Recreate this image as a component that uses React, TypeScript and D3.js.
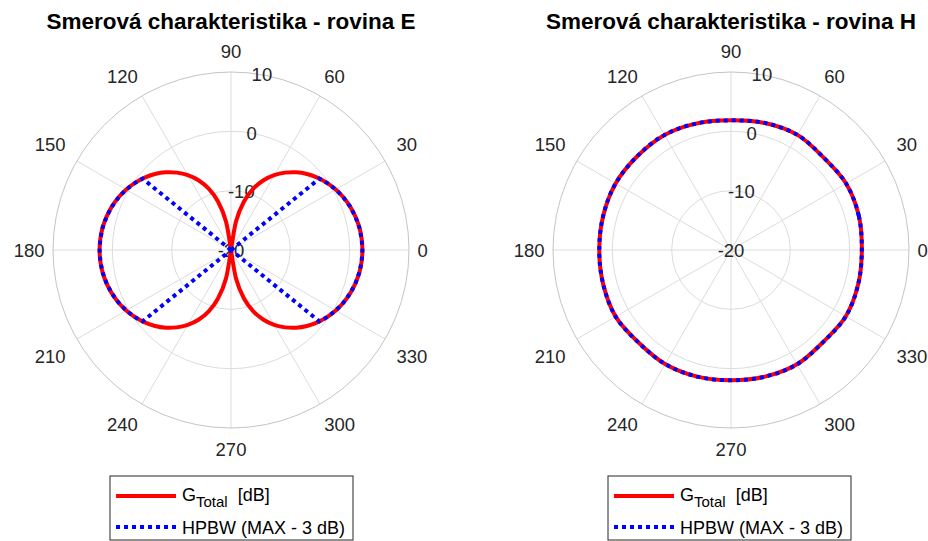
import React from 'react'
import * as d3 from 'd3'

const WIDTH = 928
const HEIGHT = 541
const RADIUS = 178
const CY = 250

// polar axes setup
const THETA_TICKS = [0, 30, 60, 90, 120, 150, 180, 210, 240, 270, 300, 330]
const R_TICKS = [-20, -10, 0, 10]
const R_LIMITS = [-20, 10]

// E plane - gain [dB] every 5 degrees (0..355)
const ANGLES_E = d3.range(0, 360, 5)
const GAIN_E = [
  2.15, 2.1, 1.96, 1.71, 1.37, 0.93, 0.39, -0.26, -1.02, -1.89, -2.9, -4.08,
  -5.44, -7.03, -9.01, -11.54, -15.1, -20, -20, -20, -15.1, -11.54, -9.01, -7.03,
  -5.44, -4.08, -2.9, -1.89, -1.02, -0.26, 0.39, 0.93, 1.37, 1.71, 1.96, 2.1,
  2.15, 2.1, 1.96, 1.71, 1.37, 0.93, 0.39, -0.26, -1.02, -1.89, -2.9, -4.08,
  -5.44, -7.03, -9.01, -11.54, -15.1, -20, -20, -20, -15.1, -11.54, -9.01, -7.03,
  -5.44, -4.08, -2.9, -1.89, -1.02, -0.26, 0.39, 0.93, 1.37, 1.71, 1.96, 2.1
]

// E plane - HPBW (MAX - 3 dB), one run per lobe, starting and ending at the centre
const HPBW_E_RIGHT_ANG = [38.9, 38.9, 35, 30, 25, 20, 15, 10, 5, 0, -5, -10, -15, -20, -25, -30, -35, -38.9, -38.9]
const HPBW_E_RIGHT_DB = [-20, -0.85, -0.26, 0.39, 0.93, 1.37, 1.71, 1.96, 2.1, 2.15, 2.1, 1.96, 1.71, 1.37, 0.93, 0.39, -0.26, -0.85, -20]
const HPBW_E_LEFT_ANG = [141.1, 141.1, 145, 150, 155, 160, 165, 170, 175, 180, 185, 190, 195, 200, 205, 210, 215, 218.9, 218.9]
const HPBW_E_LEFT_DB = [-20, -0.85, -0.26, 0.39, 0.93, 1.37, 1.71, 1.96, 2.1, 2.15, 2.1, 1.96, 1.71, 1.37, 0.93, 0.39, -0.26, -0.85, -20]

// H plane - gain [dB] every 15 degrees (0..345)
const ANGLES_H = d3.range(0, 360, 15)
const GAIN_H = [
  2.05, 2.3, 2.4, 2.05, 2.4, 2.15, 1.85, 2.1, 2.4, 2.35, 2.45, 2.3,
  2.2, 2.3, 2.45, 2.05, 2.2, 2.1, 1.95, 2.1, 2.25, 1.95, 2.35, 2.2
]

const RED = '#ff0000'
const BLUE = '#0000ff'
const GRID = '#dcdcdc'
const TXT = '#262626'
const FONT = "'Liberation Sans', Arial, Helvetica, sans-serif"

type Pt = [number, number]
const zip = (a: number[], b: number[]): Pt[] => a.map((v, i) => [v, b[i]])

const rScale = d3.scaleLinear().domain(R_LIMITS).range([0, RADIUS]).clamp(true)
const toRad = (deg: number) => ((90 - deg) * Math.PI) / 180

const smoothLine = d3
  .lineRadial<Pt>()
  .angle(d => toRad(d[0]))
  .radius(d => rScale(d[1]))
  .curve(d3.curveCardinalClosed)

const straightLine = d3
  .lineRadial<Pt>()
  .angle(d => toRad(d[0]))
  .radius(d => rScale(d[1]))

function Polar({ cx, title, gain, hpbw, hpbwClosed }: { cx: number; title: string; gain: Pt[]; hpbw: Pt[][]; hpbwClosed?: boolean }) {
  return (
    <g>
      <text x={cx} y={29} textAnchor="middle" fontSize={22.5} fontWeight="bold" fill="#000">{title}</text>
      <g transform={`translate(${cx},${CY})`}>
        {THETA_TICKS.map(t => {
          const a = (t * Math.PI) / 180
          return <line key={'s' + t} x1={0} y1={0} x2={RADIUS * Math.cos(a)} y2={-RADIUS * Math.sin(a)} stroke={GRID} strokeWidth={1} />
        })}
        {R_TICKS.slice(1, -1).map(v => (
          <circle key={'c' + v} r={rScale(v)} fill="none" stroke={GRID} strokeWidth={1} />
        ))}
        <circle r={RADIUS} fill="none" stroke="#c4c4c4" strokeWidth={1} />
        {THETA_TICKS.map(t => {
          const a = (t * Math.PI) / 180
          const c = Math.cos(a)
          const s = Math.sin(a)
          const rr = RADIUS + 8.5
          const anchor = c > 0.01 ? 'start' : c < -0.01 ? 'end' : 'middle'
          const dy = s > 0.01 ? '-0.32em' : s < -0.01 ? '1.07em' : '0.4em'
          // the 30/150/210/330 labels sit a bit further out in the reference
          const nudge = Math.abs(Math.abs(s) - 0.5) < 0.01 ? 4 * Math.sign(c) : 0
          return (
            <text key={'t' + t} x={rr * c + nudge} y={-rr * s} dy={dy} textAnchor={anchor} fontSize={18.5} fill={TXT}>{t}</text>
          )
        })}
        {R_TICKS.map(v => {
          const a = (80 * Math.PI) / 180
          const rr = rScale(v)
          return (
            <text key={'r' + v} x={rr * Math.cos(a)} y={-rr * Math.sin(a)} dy="0.36em" textAnchor="middle" fontSize={18.5} fill={TXT}>{v}</text>
          )
        })}
        <path d={smoothLine(gain) || ''} fill="none" stroke={RED} strokeWidth={4} strokeLinejoin="round" />
        {hpbw.map((run, i) => (
          <path key={'h' + i} d={(hpbwClosed ? smoothLine(run) : straightLine(run)) || ''} fill="none" stroke={BLUE} strokeWidth={4} strokeDasharray="4 4" />
        ))}
      </g>
    </g>
  )
}

function Legend({ x }: { x: number }) {
  return (
    <g transform={`translate(${x},476)`} fontSize={18} fill="#000">
      <rect x={0} y={0} width={243} height={64} fill="#fff" stroke={TXT} strokeWidth={1} />
      <line x1={6} x2={66} y1={20} y2={20} stroke={RED} strokeWidth={4} />
      <text x={72} y={25} fill="#000">
        G<tspan fontSize={15} dy={6}>Total</tspan><tspan dy={-6} xmlSpace="preserve">  [dB]</tspan>
      </text>
      <line x1={6} x2={66} y1={51} y2={51} stroke={BLUE} strokeWidth={4} strokeDasharray="4 4" />
      <text x={72} y={57.5} fill="#000">HPBW (MAX - 3 dB)</text>
    </g>
  )
}

export default function App() {
  const gainE = zip(ANGLES_E, GAIN_E)
  const gainH = zip(ANGLES_H, GAIN_H)
  const hpbwE = [zip(HPBW_E_RIGHT_ANG, HPBW_E_RIGHT_DB), zip(HPBW_E_LEFT_ANG, HPBW_E_LEFT_DB)]
  return (
    <div style={{ position: 'absolute', left: 0, top: 0 }}>
      <svg width={WIDTH} height={HEIGHT} style={{ display: 'block', background: '#fff', fontFamily: FONT }}>
        <Polar cx={231} title="Smerová charakteristika - rovina E" gain={gainE} hpbw={hpbwE} />
        <Polar cx={731} title="Smerová charakteristika - rovina H" gain={gainH} hpbw={[gainH]} hpbwClosed />
        <Legend x={110} />
        <Legend x={608} />
      </svg>
    </div>
  )
}
